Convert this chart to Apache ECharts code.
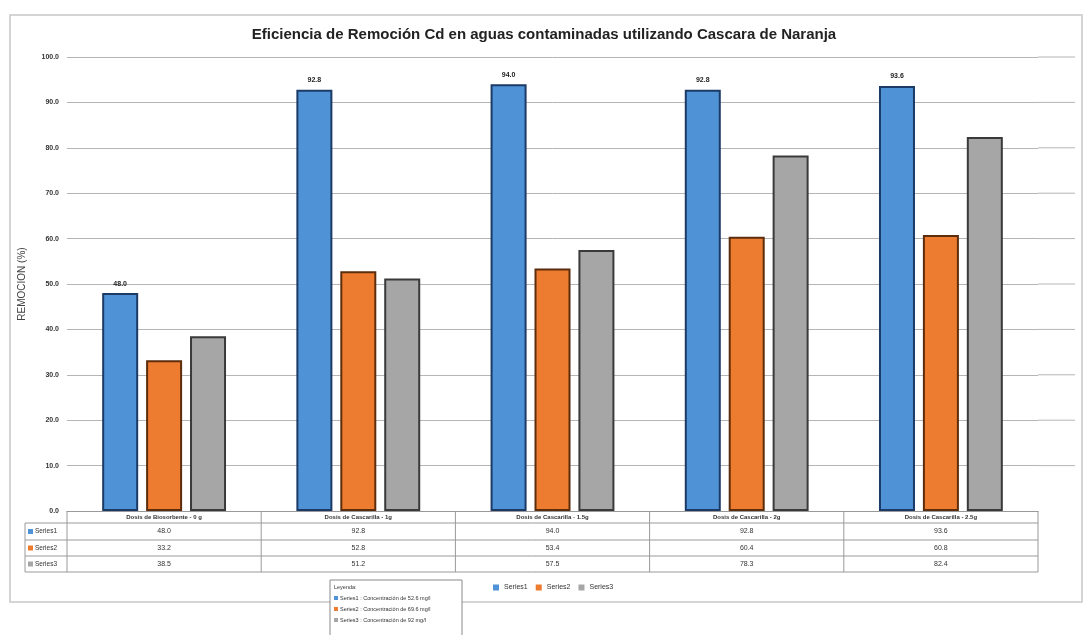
<!DOCTYPE html>
<html>
<head>
<meta charset="utf-8">
<script src="https://cdn.jsdelivr.net/npm/echarts@6/dist/echarts.min.js"></script>
<style>
  html, body { margin: 0; padding: 0; background: #fff; }
  #chart { width: 1088px; height: 635px; }
</style>
</head>
<body>
<div id="chart"></div>
<script>
// Dosis de biosorbente (categorías del eje X)
const categories = [
  'Dosis de Biosorbente - 0 g',
  'Dosis de Cascarilla - 1g',
  'Dosis de Cascarilla - 1.5g',
  'Dosis de Cascarilla - 2g',
  'Dosis de Cascarilla - 2.5g'
];
const seriesNames = ['Series1', 'Series2', 'Series3'];
// Remoción (%) por concentración inicial
const series1 = [48.0, 92.8, 94.0, 92.8, 93.6];
const series2 = [33.2, 52.8, 53.4, 60.4, 60.8];
const series3 = [38.5, 51.2, 57.5, 78.3, 82.4];
const yTicks = [0, 10, 20, 30, 40, 50, 60, 70, 80, 90, 100];
const legendNotes = [
  'Leyenda:',
  'Series1 : Concentración de 52.6 mg/l',
  'Series2 : Concentración de 69.6 mg/l',
  'Series3 : Concentración de 92 mg/l'
];

const fills = ['#4f93d6', '#ee7c30', '#a6a6a6'];
const edges = ['#1b3a66', '#5c2d0c', '#3a3a3a'];
const font = "'Liberation Sans Narrow', 'Liberation Sans', sans-serif";

const chart = echarts.init(document.getElementById('chart'));
const allSeries = [series1, series2, series3];

const gridLeft = 67, gridRight = 50, gridTop = 57, gridBottom = 124;

chart.setOption({
  animation: false,
  backgroundColor: '#fff',
  title: {
    text: 'Eficiencia de Remoción Cd en aguas contaminadas utilizando Cascara de Naranja',
    left: 'center',
    top: 22,
    textStyle: { fontFamily: font, fontSize: 15, fontWeight: 'bold', color: '#222' }
  },
  legend: {
    data: seriesNames,
    left: 488,
    top: 579,
    itemWidth: 6,
    itemHeight: 6,
    itemGap: 8,
    icon: 'rect',
    itemStyle: { borderWidth: 0 },
    textStyle: { fontFamily: font, fontSize: 7, color: '#333' }
  },
  grid: { left: gridLeft, right: gridRight, top: gridTop, bottom: gridBottom },
  xAxis: {
    type: 'category',
    data: categories,
    axisTick: { show: false },
    axisLabel: { show: false },
    axisLine: { lineStyle: { color: '#999', width: 1 } }
  },
  yAxis: {
    type: 'value',
    min: 0,
    max: 100,
    interval: 10,
    name: 'REMOCION (%)',
    nameLocation: 'middle',
    nameGap: 40,
    nameRotate: 90,
    nameTextStyle: { fontFamily: font, fontSize: 10, color: '#444' },
    axisLabel: {
      formatter: v => v.toFixed(1),
      fontFamily: font, fontSize: 7, fontWeight: 'bold', color: '#333', margin: 8
    },
    splitLine: { lineStyle: { color: '#b5b5b5', width: 1 } }
  },
  series: allSeries.map((vals, i) => ({
    name: seriesNames[i],
    type: 'bar',
    data: vals,
    barWidth: 36,
    barGap: '22%',
    itemStyle: { color: fills[i], borderColor: edges[i], borderWidth: 2 },
    label: i === 0 ? {
      show: true,
      position: 'top',
      distance: 6,
      formatter: p => p.value.toFixed(1),
      fontFamily: font, fontSize: 7, fontWeight: 'bold', color: '#222'
    } : { show: false }
  }))
});

// Tabla de datos bajo el eje y recuadros
function drawExtras() {
  const g = [];
  const plotW = 1088 - gridLeft - gridRight;
  const catW = plotW / categories.length;
  const y0 = 635 - gridBottom;
  const rowH = [12, 17, 16, 16];
  const tableLeft = 25, tableRight = gridLeft + plotW;
  const rows = [y0];
  rowH.forEach(h => rows.push(rows[rows.length - 1] + h));

  // marco del gráfico
  g.push({ type: 'rect', shape: { x: 10, y: 15, width: 1072, height: 587 },
    style: { fill: 'none', stroke: '#c8c8c8', lineWidth: 1.5 }, z: 0 });

  // prolongación de las líneas de división hacia la derecha
  yTicks.slice(1).forEach(t => {
    const y = chart.convertToPixel({ yAxisIndex: 0 }, t);
    g.push({ type: 'line', shape: { x1: tableRight, y1: y, x2: 1075, y2: y },
      subPixelOptimize: true,
      style: { stroke: '#b5b5b5', lineWidth: 1 } });
  });

  // líneas horizontales de la tabla
  for (let r = 1; r < rows.length; r++) {
    g.push({ type: 'line', shape: { x1: tableLeft, y1: rows[r], x2: tableRight, y2: rows[r] },
      style: { stroke: '#9a9a9a', lineWidth: 1 } });
  }
  // líneas verticales
  g.push({ type: 'line', shape: { x1: tableLeft, y1: rows[1], x2: tableLeft, y2: rows[4] },
    style: { stroke: '#9a9a9a', lineWidth: 1 } });
  for (let c = 0; c <= categories.length; c++) {
    const x = gridLeft + c * catW;
    g.push({ type: 'line', shape: { x1: x, y1: y0, x2: x, y2: rows[4] },
      style: { stroke: '#9a9a9a', lineWidth: 1 } });
  }
  // encabezados de categoría
  categories.forEach((cat, c) => {
    const cx = chart.convertToPixel({ xAxisIndex: 0 }, cat);
    g.push({ type: 'text', x: cx, y: y0 + 6,
      style: { text: cat, align: 'center', verticalAlign: 'middle',
        fontFamily: font, fontSize: 6, fontWeight: 'bold', fill: '#333',
        backgroundColor: '#fff', padding: [2, 8] }, z: 10 });
    allSeries.forEach((vals, s) => {
      g.push({ type: 'text', x: cx, y: (rows[s + 1] + rows[s + 2]) / 2,
        style: { text: vals[c].toFixed(1), align: 'center', verticalAlign: 'middle',
          fontFamily: font, fontSize: 7, fill: '#333' } });
    });
  });
  // claves de serie en la tabla
  seriesNames.forEach((name, s) => {
    const yc = (rows[s + 1] + rows[s + 2]) / 2;
    g.push({ type: 'rect', shape: { x: 28, y: yc - 2.5, width: 5, height: 5 },
      style: { fill: fills[s] } });
    g.push({ type: 'text', x: 35, y: yc,
      style: { text: name, verticalAlign: 'middle', fontFamily: font, fontSize: 6.5, fill: '#333' } });
  });

  // recuadro de leyenda
  g.push({ type: 'rect', shape: { x: 330, y: 580, width: 132, height: 60 },
    style: { fill: '#fff', stroke: '#8a8a8a', lineWidth: 1 }, z: 20 });
  legendNotes.forEach((t, i) => {
    const yy = 587 + i * 11;
    if (i > 0) {
      g.push({ type: 'rect', shape: { x: 334, y: yy - 2, width: 4, height: 4 },
        style: { fill: fills[i - 1] }, z: 21 });
    }
    g.push({ type: 'text', x: i > 0 ? 340 : 334, y: yy,
      style: { text: t, verticalAlign: 'middle', fontFamily: font, fontSize: 5.5, fill: '#333' }, z: 21 });
  });

  chart.setOption({ graphic: g });
}
drawExtras();
</script>
</body>
</html>
